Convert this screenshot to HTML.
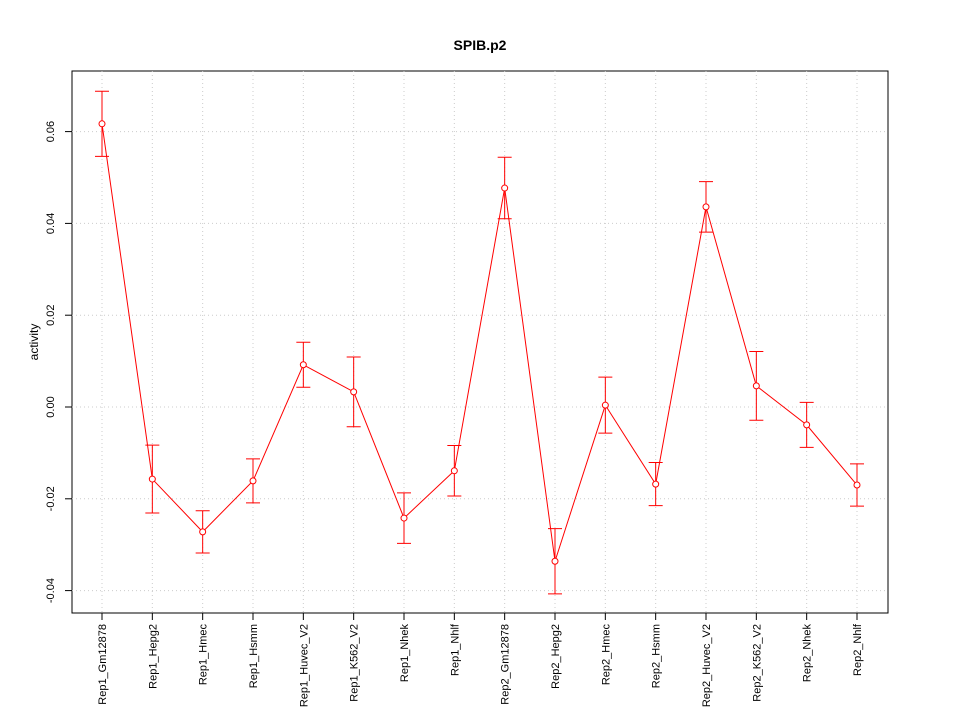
<!DOCTYPE html>
<html><head><meta charset="utf-8"><style>body{margin:0;background:#fff}svg{display:block;font-family:"Liberation Sans",sans-serif}</style></head>
<body>
<svg id="c" width="960" height="720">
<text x="480" y="50" text-anchor="middle" font-size="14" font-weight="bold">SPIB.p2</text>
<text transform="translate(38,342) rotate(-90)" text-anchor="middle" font-size="12">activity</text>
<rect x="72" y="71" width="816" height="542" fill="none" stroke="#000"/>
</svg>
<script>
const categories=["Rep1_Gm12878","Rep1_Hepg2","Rep1_Hmec","Rep1_Hsmm","Rep1_Huvec_V2","Rep1_K562_V2","Rep1_Nhek","Rep1_Nhlf","Rep2_Gm12878","Rep2_Hepg2","Rep2_Hmec","Rep2_Hsmm","Rep2_Huvec_V2","Rep2_K562_V2","Rep2_Nhek","Rep2_Nhlf"];
const values=[0.0617,-0.0157,-0.0272,-0.0161,0.0092,0.0033,-0.0242,-0.0139,0.0477,-0.0336,0.0004,-0.0168,0.0436,0.0046,-0.0039,-0.0170];
const errors=[0.0071,0.0074,0.0046,0.0048,0.0049,0.0076,0.0055,0.0055,0.0067,0.0071,0.0061,0.0047,0.0055,0.0075,0.0049,0.0046];
const yTicks=[-0.04,-0.02,0.00,0.02,0.04,0.06];
const yTickLabels=["-0.04","-0.02","0.00","0.02","0.04","0.06"];
const svg=document.getElementById('c');const NS="http://www.w3.org/2000/svg";
const xs=i=>102+i*(857-102)/(categories.length-1);
const ys=v=>407-v*4590;
function mk(t,a,p){const e=document.createElementNS(NS,t);for(const k in a)e.setAttribute(k,a[k]);(p||svg).appendChild(e);return e;}
categories.forEach((c,i)=>{const g=mk('line',{x1:xs(i),x2:xs(i),y1:71,y2:613,stroke:'#ccc','stroke-dasharray':'1,3'});


const t=mk('line',{x1:xs(i),x2:xs(i),y1:613,y2:620,stroke:'#000'});


const l=mk('text',{transform:`translate(${xs(i)+4},624) rotate(-90)`,'text-anchor':'end','font-size':11});l.textContent=c;

});
yTicks.forEach((v,i)=>{const g=mk('line',{x1:72,x2:888,y1:ys(v),y2:ys(v),stroke:'#ccc','stroke-dasharray':'1,3'});


const t=mk('line',{x1:65,x2:72,y1:ys(v),y2:ys(v),stroke:'#000'});


const l=mk('text',{transform:`translate(54,${ys(v)}) rotate(-90)`,'text-anchor':'middle','font-size':11});l.textContent=yTickLabels[i];

});
const line=mk('polyline',{points:values.map((v,i)=>xs(i)+','+ys(v)).join(' '),fill:'none',stroke:'#f00'});


values.forEach((v,i)=>{const x=xs(i),hi=ys(v+errors[i]),lo=ys(v-errors[i]);
const e=mk('path',{d:`M${x},${hi}V${lo}M${x-7},${hi}H${x+7}M${x-7},${lo}H${x+7}`,stroke:'#f00',fill:'none'});


const p=mk('circle',{cx:x,cy:ys(v),r:3,fill:'#fff',stroke:'#f00'});

});
</script>
</body></html>
